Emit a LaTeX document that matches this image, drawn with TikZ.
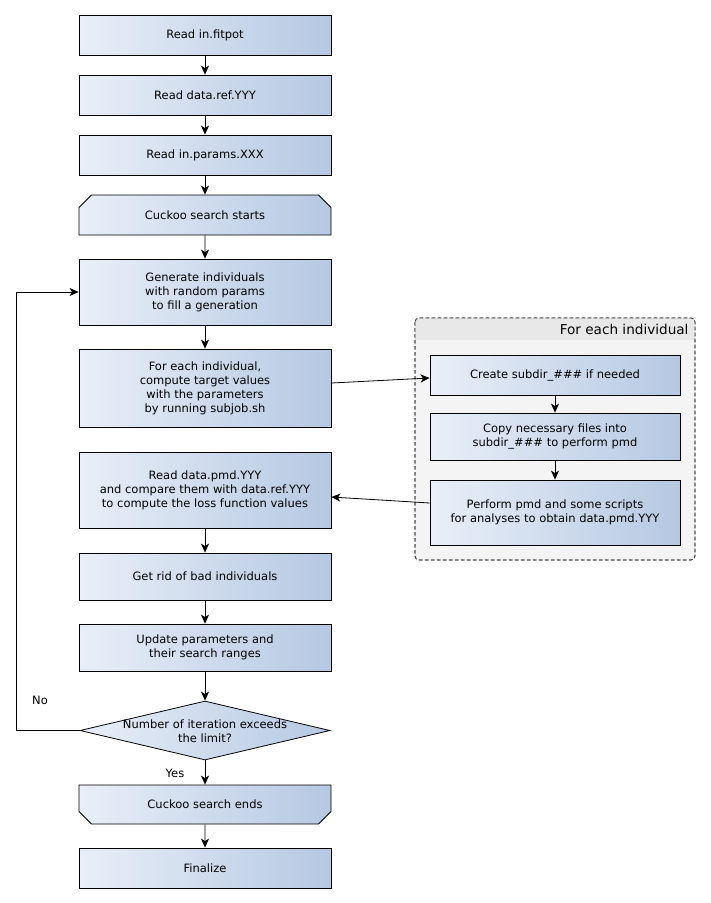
\documentclass[tikz,border=0pt]{standalone}
\usepackage{fontspec}
\setmainfont{DejaVu Sans}
\usetikzlibrary{shapes.geometric,shapes.misc,arrows.meta}
\definecolor{gl}{HTML}{E9EFF8}
\definecolor{gr}{HTML}{B5C8E2}
\definecolor{contfill}{HTML}{F4F4F4}
\definecolor{headfill}{HTML}{E8E8E8}
\tikzset{
  x=1pt, y=-1pt,
  every node/.style={font=\fontsize{11.5}{14}\selectfont, align=center, text=black},
  procbox/.style={draw=black, line width=0.8pt, rectangle, left color=gl, right color=gr,
     minimum width=252pt, inner sep=0pt},
  startbox/.style={procbox, chamfered rectangle, chamfered rectangle corners={north west,north east},
     chamfered rectangle xsep=8pt, chamfered rectangle ysep=8pt},
  endbox/.style={procbox, chamfered rectangle, chamfered rectangle corners={south west,south east},
     chamfered rectangle xsep=8pt, chamfered rectangle ysep=8pt},
  subbox/.style={procbox, minimum width=250pt},
  flow/.style={draw=black, line width=0.8pt, -{Stealth[length=9pt,width=8pt,inset=2.5pt]}},
}
\begin{document}
\begin{tikzpicture}
\useasboundingbox (0,0) rectangle (711,903);
\fill[white] (0,0) rectangle (711,903);

% container
\draw[fill=contfill, draw=black!80, dashed, line width=0.7pt, rounded corners=4pt] (415,318) rectangle (695,560);
\begin{scope}
\clip[rounded corners=4pt] (415,318) rectangle (695,560);
\fill[headfill] (415,318) rectangle (695,340);
\end{scope}
\draw[draw=black!80, dash pattern=on 4pt off 2pt, line width=0.7pt, rounded corners=4pt] (415,318) rectangle (695,560);
\node[anchor=east, font=\fontsize{13.6}{16}\selectfont] (ctitle) at (692,329.5) {For each individual};

% main column
\node[procbox, minimum height=40pt] (b1) at (205,35) {Read in.fitpot};
\node[procbox, minimum height=40pt] (b2) at (205,95) {Read data.ref.YYY};
\node[procbox, minimum height=40pt] (b3) at (205,155) {Read in.params.XXX};
\node[startbox, minimum height=40pt] (b4) at (205,215) {Cuckoo search starts};
\node[procbox, minimum height=66pt] (b5) at (205,292) {Generate individuals\\with random params\\to fill a generation};
\node[procbox, minimum height=78pt] (b6) at (205,388) {For each individual,\\compute target values\\with the parameters\\by running subjob.sh};
\node[procbox, minimum height=76pt] (b7) at (205,490) {Read data.pmd.YYY\\and compare them with data.ref.YYY\\to compute the loss function values};
\node[procbox, minimum height=47pt] (b8) at (205,576.5) {Get rid of bad individuals};
\node[procbox, minimum height=47pt] (b9) at (205,647.5) {Update parameters and\\their search ranges};
\node[diamond, draw=black, line width=0.8pt, left color=gl, right color=gr, minimum width=250pt,
      minimum height=59pt, inner sep=0pt] (dia) at (205,730.5) {};
\node (diatext) at (205,731) {Number of iteration exceeds\\the limit?};
\node[endbox, minimum height=39pt] (b10) at (205,804.5) {Cuckoo search ends};
\node[procbox, minimum height=40pt] (b11) at (205,868) {Finalize};

% sub column
\node[subbox, minimum height=40pt] (sa) at (555,375) {Create subdir\_\#\#\# if needed};
\node[subbox, minimum height=47pt] (sb) at (555,436.5) {Copy necessary files into\\subdir\_\#\#\# to perform pmd};
\node[subbox, minimum height=65pt] (sc) at (555,512.5) {Perform pmd and some scripts\\for analyses to obtain data.pmd.YYY};

% connectors
\draw[flow] (b1) -- (b2);
\draw[flow] (b2) -- (b3);
\draw[flow] (b3) -- (b4);
\draw[flow] (b4) -- (b5);
\draw[flow] (b5) -- (b6);
\draw[flow] (b7) -- (b8);
\draw[flow] (b8) -- (b9);
\draw[flow] (b9) -- (dia);
\draw[flow] (dia) -- (b10);
\draw[flow] (b10) -- (b11);
\draw[flow] (sa) -- (sb);
\draw[flow] (sb) -- (sc);
\draw[flow] ([yshift=5pt]b6.east) -- ([yshift=-3pt]sa.west);
\draw[flow] ([yshift=9.5pt]sc.west) -- ([yshift=-7pt]b7.east);
\coordinate (lp) at (16,500);
\draw[flow] (dia.west) -- (dia.west -| lp) -- (b5.west -| lp) -- (b5.west);
\node (no) at (40,700) {No};
\node (yes) at (175,773) {Yes};
\end{tikzpicture}
\end{document}
